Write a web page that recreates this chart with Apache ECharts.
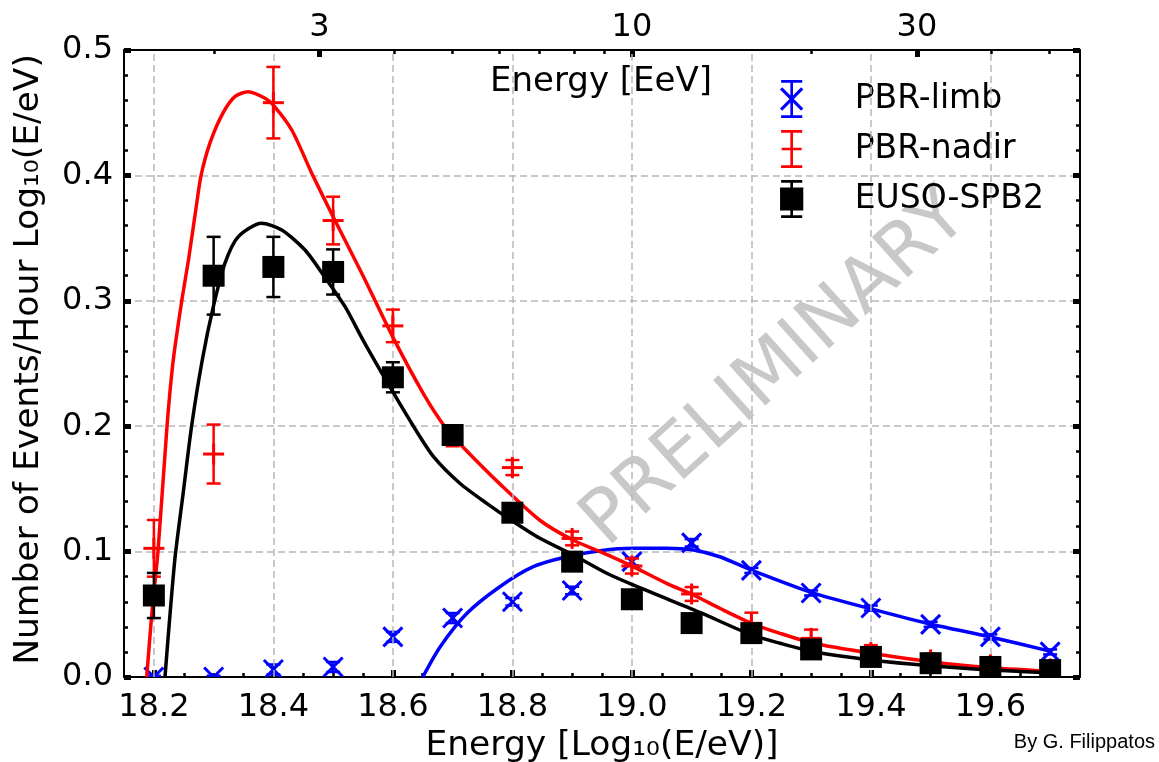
<!DOCTYPE html>
<html>
<head>
<meta charset="utf-8">
<script src="https://cdn.jsdelivr.net/npm/echarts@6/dist/echarts.min.js"></script>
<style>
  html, body { margin: 0; padding: 0; background: #ffffff; }
  #chart { width: 1159px; height: 762px; }
</style>
</head>
<body>
<div id="chart"></div>
<script>
// Energy bins, log10(E/eV)
const energyLog = [18.2, 18.3, 18.4, 18.5, 18.6, 18.7, 18.8, 18.9, 19.0, 19.1, 19.2, 19.3, 19.4, 19.5, 19.6, 19.7];

// Event rates (events / hour / log10(E/eV)) and their uncertainties
const limbValues  = [0.000, 0.000, 0.006, 0.008, 0.032, 0.047, 0.060, 0.069, 0.092, 0.107, 0.085, 0.067, 0.055, 0.042, 0.032, 0.020];
const limbErrors  = [0.001, 0.001, 0.004, 0.004, 0.004, 0.004, 0.003, 0.003, 0.003, 0.003, 0.002, 0.002, 0.002, 0.002, 0.002, 0.002];
const nadirValues = [0.1026, 0.1778, 0.458, 0.364, 0.280, 0.192, 0.167, 0.1105, 0.0885, 0.0662, 0.0428, 0.0308, 0.0194, 0.0136, 0.0096, 0.0064];
const nadirErrors = [0.0226, 0.0235, 0.0285, 0.019, 0.013, 0.008, 0.006, 0.0055, 0.006, 0.0055, 0.0085, 0.007, 0.006, 0.005, 0.005, 0.003];
const spb2Values  = [0.065, 0.320, 0.327, 0.323, 0.239, 0.193, 0.131, 0.092, 0.062, 0.043, 0.035, 0.022, 0.016, 0.011, 0.008, 0.0055];
const spb2Errors  = [0.018, 0.031, 0.024, 0.018, 0.012, 0.005, 0.004, 0.004, 0.003, 0.003, 0.003, 0.003, 0.003, 0.002, 0.002, 0.002];

// Fitted curves, sampled along log10(E/eV)
const limbFitX  = [18.650, 18.679, 18.724, 18.779, 18.835, 18.891, 18.947, 19.002, 19.058, 19.103, 19.147, 19.200, 19.304, 19.402, 19.499, 19.602, 19.703];
const limbFitY  = [0.000, 0.024, 0.0508, 0.072, 0.088, 0.0959, 0.1007, 0.1026, 0.1026, 0.1013, 0.0959, 0.0853, 0.0669, 0.0541, 0.0423, 0.0317, 0.0202];
const nadirFitX = [18.188, 18.197, 18.207, 18.222, 18.2325, 18.247, 18.258, 18.270, 18.279, 18.294, 18.316, 18.336, 18.358, 18.386, 18.400, 18.431, 18.464, 18.500, 18.550, 18.600, 18.651, 18.687, 18.718, 18.779, 18.846, 18.902, 18.947, 19.002, 19.058, 19.103, 19.147, 19.200, 19.248, 19.304, 19.401, 19.499, 19.602, 19.711];
const nadirFitY = [0.000, 0.053, 0.101, 0.200, 0.253, 0.301, 0.333, 0.372, 0.400, 0.426, 0.450, 0.463, 0.4667, 0.4615, 0.456, 0.436, 0.402, 0.367, 0.320, 0.271, 0.226, 0.1996, 0.183, 0.154, 0.125, 0.109, 0.0999, 0.088, 0.0747, 0.0654, 0.0548, 0.0428, 0.0348, 0.0269, 0.0189, 0.0122, 0.0074, 0.0043];
const spb2FitX  = [18.2186, 18.235, 18.249, 18.263, 18.281, 18.2995, 18.319, 18.341, 18.380, 18.414, 18.453, 18.486, 18.520, 18.550, 18.598, 18.637, 18.668, 18.712, 18.757, 18.802, 18.846, 18.902, 18.958, 19.002, 19.058, 19.114, 19.2005, 19.248, 19.304, 19.401, 19.499, 19.602, 19.711];
const spb2FitY  = [0.000, 0.0933, 0.1465, 0.1996, 0.2528, 0.2953, 0.330, 0.351, 0.3618, 0.3565, 0.3405, 0.319, 0.2953, 0.2687, 0.2289, 0.198, 0.1757, 0.1545, 0.1385, 0.1238, 0.1106, 0.0973, 0.0827, 0.0734, 0.0625, 0.0515, 0.0335, 0.0269, 0.0202, 0.0136, 0.0090, 0.0056, 0.0029];

// Axis ticks
const xMajorTicks = [18.2, 18.4, 18.6, 18.8, 19.0, 19.2, 19.4, 19.6];
const xMinorTicks = [18.25, 18.3, 18.35, 18.45, 18.5, 18.55, 18.65, 18.7, 18.75, 18.85, 18.9, 18.95, 19.05, 19.1, 19.15, 19.25, 19.3, 19.35, 19.45, 19.5, 19.55, 19.65, 19.7];
const topMajorEeV = [3, 10, 30];
const topMajorLabels = ['3', '10', '30'];
const topMinorEeV = [2, 4, 5, 6, 7, 8, 9, 20, 40, 50];

const FONT = 'DejaVu Sans';
const BLUE = '#0000ff', RED = '#ff0000', BLACK = '#000000';
const GRID_COLOR = '#b8b8b8';
const GRID_DASH = [7, 4];

const eevToLog = e => 18 + Math.log10(e);
const topMajorPos = topMajorEeV.map(eevToLog);
const topMinorPos = topMinorEeV.map(eevToLog);
const zip2 = (a, b) => a.map((v, i) => [v, b[i]]);
const zip3 = (a, b, c) => a.map((v, i) => [v, b[i], c[i]]);

// Error bar with caps plus the point marker, clipped to the plotting area
function pointRenderer(kind, color) {
  return function (params, api) {
    const x = api.value(0), y = api.value(1), e = api.value(2);
    const c = api.coord([x, y]);
    const hi = api.coord([x, y + e])[1];
    const lo = api.coord([x, y - e])[1];
    const ls = { stroke: color, lineWidth: 2.5, fill: null };
    const cap = 7;
    const kids = [];
    if (e > 0) {
      kids.push({ type: 'line', shape: { x1: c[0], y1: hi, x2: c[0], y2: lo }, style: ls });
      kids.push({ type: 'line', shape: { x1: c[0] - cap, y1: hi, x2: c[0] + cap, y2: hi }, style: ls });
      kids.push({ type: 'line', shape: { x1: c[0] - cap, y1: lo, x2: c[0] + cap, y2: lo }, style: ls });
    }
    if (kind === 'square') {
      kids.push({ type: 'rect', shape: { x: c[0] - 11, y: c[1] - 11, width: 22, height: 22 }, style: { fill: color } });
    } else if (kind === 'plus') {
      const ps = { stroke: color, lineWidth: 3, fill: null };
      kids.push({ type: 'line', shape: { x1: c[0] - 10.5, y1: c[1], x2: c[0] + 10.5, y2: c[1] }, style: ps });
      kids.push({ type: 'line', shape: { x1: c[0], y1: c[1] - 10.5, x2: c[0], y2: c[1] + 10.5 }, style: ps });
    } else {
      const xs = { stroke: color, lineWidth: 3, fill: null };
      const r = 9.5;
      kids.push({ type: 'line', shape: { x1: c[0] - r, y1: c[1] - r, x2: c[0] + r, y2: c[1] + r }, style: xs });
      kids.push({ type: 'line', shape: { x1: c[0] - r, y1: c[1] + r, x2: c[0] + r, y2: c[1] - r }, style: xs });
    }
    return { type: 'group', children: kids };
  };
}

// Legend glyphs: error bar with caps plus marker
const barAndCaps = 'M9.75 0H12.25V36H9.75Z M1 0H21V2.5H1Z M1 33.5H21V36H1Z ';
const limbIcon  = 'path://' + barAndCaps + 'M2.06 6.94L22.06 26.94L19.94 29.06L-0.06 9.06Z M19.94 6.94L22.06 9.06L2.06 29.06L-0.06 26.94Z';
const nadirIcon = 'path://' + barAndCaps + 'M1.5 16.75H20.5V19.25H1.5Z';
const spb2Icon  = 'path://' + barAndCaps + 'M0 7H22V29H0Z';

const tickLabelStyle = { fontFamily: FONT, fontSize: 32, color: BLACK };

function xAxisBase(position) {
  return {
    type: 'value', gridIndex: 0, position: position, min: 18.15, max: 19.75,
    axisLine: { show: false, onZero: false },
    axisTick: { show: false },
    axisLabel: { show: false },
    splitLine: { show: false }
  };
}
function yAxisBase(position, interval) {
  return {
    type: 'value', gridIndex: 0, position: position, min: 0, max: 0.5, interval: interval,
    axisLine: { show: false, onZero: false },
    axisTick: { show: false },
    axisLabel: { show: false },
    splitLine: { show: false }
  };
}
const frameLine = { show: true, onZero: false, lineStyle: { color: BLACK, width: 2 } };
const majorTick = { show: true, inside: true, length: 7, lineStyle: { color: BLACK, width: 5 } };
const minorTick = { show: true, inside: true, length: 4, lineStyle: { color: BLACK, width: 2.5 } };

const xAxes = [
  // bottom, minor ticks + frame line (data axis)
  Object.assign(xAxisBase('bottom'), {
    axisLine: frameLine,
    axisTick: Object.assign({ customValues: xMinorTicks }, minorTick)
  }),
  // bottom, major ticks, labels and title
  Object.assign(xAxisBase('bottom'), {
    axisTick: Object.assign({ customValues: xMajorTicks }, majorTick),
    axisLabel: Object.assign({ show: true, customValues: xMajorTicks, margin: 15, formatter: v => v.toFixed(1) }, tickLabelStyle),
    name: 'Energy [Log\u2081\u2080(E/eV)]',
    nameLocation: 'middle', nameGap: 46,
    nameTextStyle: { fontFamily: FONT, fontSize: 34.5, color: BLACK }
  }),
  // top, minor energy ticks + frame line
  Object.assign(xAxisBase('top'), {
    axisLine: frameLine,
    axisTick: Object.assign({ customValues: topMinorPos }, minorTick)
  }),
  // top, major energy ticks in EeV
  Object.assign(xAxisBase('top'), {
    axisTick: Object.assign({ customValues: topMajorPos }, majorTick),
    axisLabel: Object.assign({
      show: true, customValues: topMajorPos, margin: 6,
      formatter: v => {
        const i = topMajorPos.findIndex(p => Math.abs(p - v) < 1e-6);
        return i >= 0 ? topMajorLabels[i] : '';
      }
    }, tickLabelStyle)
  })
];

const yAxes = [
  Object.assign(yAxisBase('left', 0.1), {
    axisLine: frameLine,
    axisTick: majorTick,
    axisLabel: Object.assign({ show: true, margin: 11, formatter: v => v.toFixed(1) }, tickLabelStyle),
    splitLine: { show: true, lineStyle: { color: GRID_COLOR, width: 1.5, type: GRID_DASH } },
    name: 'Number of Events/Hour Log\u2081\u2080(E/eV)',
    nameLocation: 'middle', nameGap: 77, nameRotate: 90,
    nameTextStyle: { fontFamily: FONT, fontSize: 34.5, color: BLACK, padding: [0, 0, 0, 8] }
  }),
  Object.assign(yAxisBase('left', 0.02), { axisTick: minorTick }),
  Object.assign(yAxisBase('right', 0.1), { axisLine: frameLine, axisTick: majorTick }),
  Object.assign(yAxisBase('right', 0.02), { axisTick: minorTick })
];

function fitSeries(name, xs, ys, color, z) {
  return {
    type: 'line', name: name, xAxisIndex: 0, yAxisIndex: 0,
    data: zip2(xs, ys), showSymbol: false, smooth: 0.25,
    lineStyle: { color: color, width: 3.5 }, itemStyle: { color: color },
    clip: true, silent: true, z: z, animation: false
  };
}
function pointSeries(name, kind, values, errors, color, z) {
  return {
    type: 'custom', name: name, xAxisIndex: 0, yAxisIndex: 0,
    data: zip3(energyLog, values, errors),
    encode: { x: 0, y: 1 },
    renderItem: pointRenderer(kind, color),
    itemStyle: { color: color },
    clip: true, silent: true, z: z, animation: false
  };
}

const option = {
  animation: false,
  backgroundColor: '#ffffff',
  grid: { left: 124, right: 79, top: 50, bottom: 85, containLabel: false, outerBoundsMode: 'none' },
  xAxis: xAxes,
  yAxis: yAxes,
  legend: {
    orient: 'vertical', left: 775, top: 75,
    itemWidth: 116, itemHeight: 38, itemGap: 12,
    selectedMode: false,
    textStyle: { fontFamily: FONT, fontSize: 33, color: BLACK, lineHeight: 38 },
    data: [
      { name: 'PBR-limb', icon: limbIcon, itemStyle: { color: BLUE, borderWidth: 0 } },
      { name: 'PBR-nadir', icon: nadirIcon, itemStyle: { color: RED, borderWidth: 0 } },
      { name: 'EUSO-SPB2', icon: spb2Icon, itemStyle: { color: BLACK, borderWidth: 0 } }
    ]
  },
  graphic: [
    {
      type: 'text', x: 601, y: 82, z: 5,
      style: { text: 'Energy [EeV]', fontFamily: FONT, fontSize: 34, fill: BLACK,
               align: 'center', verticalAlign: 'middle', textAlign: 'center', textVerticalAlign: 'middle' }
    },
    {
      type: 'text', x: 776, y: 370, rotation: 42 * Math.PI / 180, z: 1,
      style: { text: 'PRELIMINARY', fontFamily: FONT, fontSize: 74, fill: '#c8c8c8',
               align: 'center', verticalAlign: 'middle', textAlign: 'center', textVerticalAlign: 'middle' }
    },
    {
      type: 'text', x: 1155, y: 742, z: 5,
      style: { text: 'By G. Filippatos', fontFamily: 'Liberation Sans', fontSize: 20, fill: BLACK,
               align: 'right', verticalAlign: 'middle', textAlign: 'right', textVerticalAlign: 'middle' }
    }
  ],
  series: [
    {
      // vertical grid lines at the major energy ticks
      type: 'line', name: 'grid', xAxisIndex: 0, yAxisIndex: 0, data: [], z: 0, silent: true,
      markLine: {
        silent: true, symbol: 'none', animation: false,
        label: { show: false },
        lineStyle: { color: GRID_COLOR, width: 1.5, type: GRID_DASH },
        data: xMajorTicks.map(v => ({ xAxis: v }))
      }
    },
    fitSeries('limb fit', limbFitX, limbFitY, BLUE, 2),
    pointSeries('PBR-limb', 'cross', limbValues, limbErrors, BLUE, 3),
    fitSeries('nadir fit', nadirFitX, nadirFitY, RED, 4),
    pointSeries('PBR-nadir', 'plus', nadirValues, nadirErrors, RED, 5),
    fitSeries('SPB2 fit', spb2FitX, spb2FitY, BLACK, 6),
    pointSeries('EUSO-SPB2', 'square', spb2Values, spb2Errors, BLACK, 7)
  ]
};

const chart = echarts.init(document.getElementById('chart'), null, { renderer: 'canvas' });
chart.setOption(option);
</script>
</body>
</html>
